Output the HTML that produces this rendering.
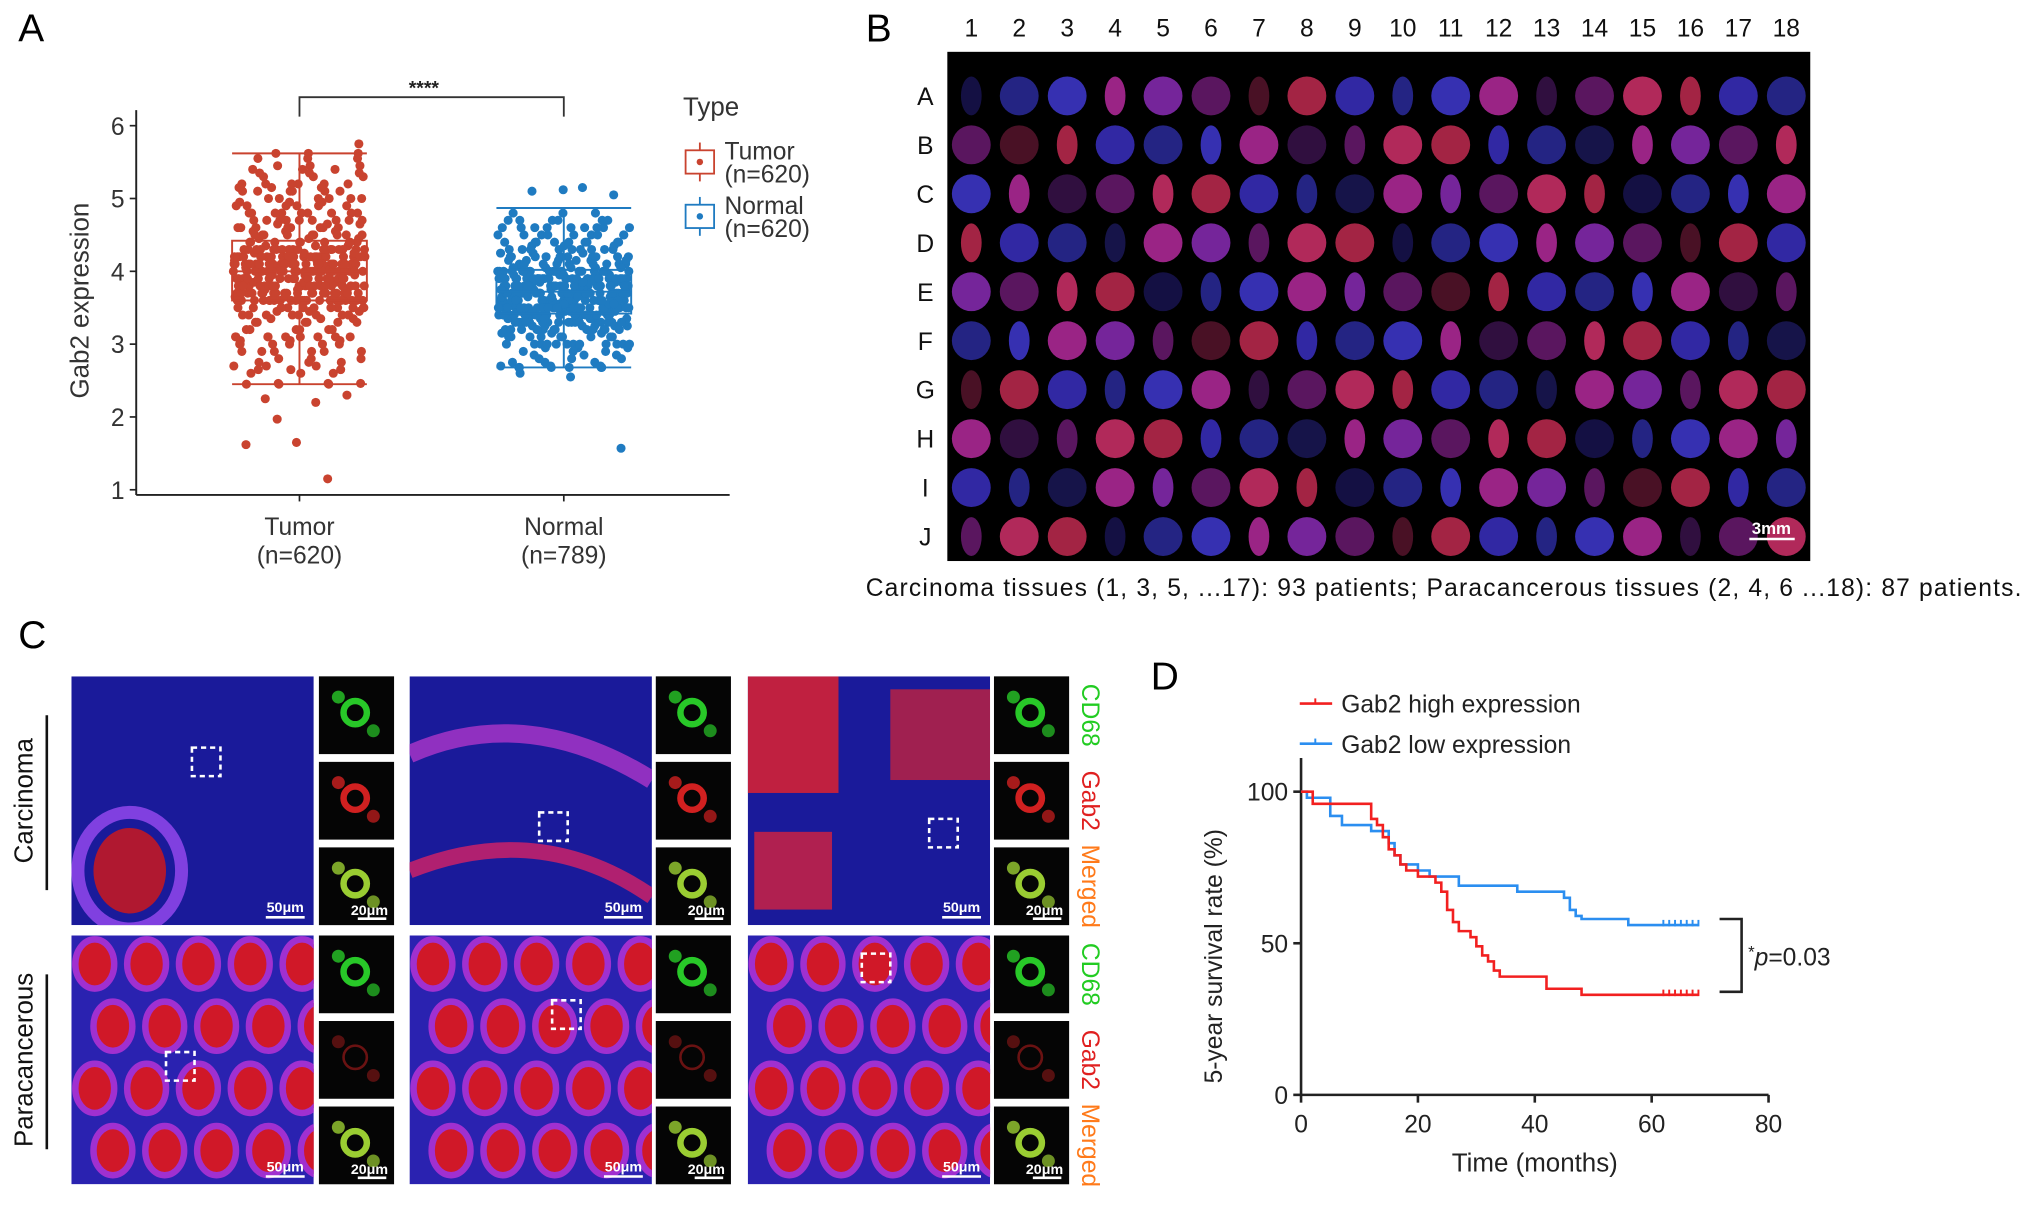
<!DOCTYPE html>
<html><head><meta charset="utf-8">
<style>
html,body{margin:0;padding:0;background:#fff;}
svg{display:block;font-family:"Liberation Sans",Arial,sans-serif;}
</style></head>
<body>
<svg id="fig" width="2032" height="1205" viewBox="0 0 1568 930" xmlns="http://www.w3.org/2000/svg">
<defs id="defs"></defs>
<rect width="1568" height="930" fill="#fff"/>
<text x="14" y="32" font-size="30">A</text>
<text x="668" y="32" font-size="30">B</text>
<text x="14" y="500" font-size="30">C</text>
<text x="888" y="532" font-size="30">D</text>

<g id="panelA"></g>
<g id="panelB"></g>
<g id="panelC"></g>
<g id="panelD"></g>
</svg>
<script>
const NS="http://www.w3.org/2000/svg";
function mk(tag,attrs,parent,txt){const e=document.createElementNS(NS,tag);for(const k in attrs)e.setAttribute(k,attrs[k]);if(txt!==undefined)e.textContent=txt;parent.appendChild(e);return e;}

/* ---------------- Panel A data ---------------- */
const groups=["Tumor","Normal"];
const groupN=["(n=620)","(n=789)"];
const yTicksA=[1,2,3,4,5,6];
const boxQ1=[3.6,3.42];
const boxMedian=[4.0,3.72];
const boxQ3=[4.42,4.02];
const whiskLow=[2.45,2.68];
const whiskHigh=[5.62,4.87];
const tumorValues=[4.0,4.2,3.8,4.5,3.6,4.1,3.9,4.3,3.7,4.8,3.3,4.0,4.6,3.5,4.2,3.9,5.0,3.1,4.4,3.8,
4.1,3.6,4.7,2.9,4.0,4.3,3.4,5.2,3.7,4.1,3.95,4.25,3.85,4.55,3.65,4.15,2.7,4.35,3.75,4.9,
3.2,4.05,4.65,3.45,4.45,3.9,5.1,3.0,4.2,3.8,4.0,3.6,4.8,2.6,4.1,4.3,3.5,5.3,3.7,4.0,
3.9,4.2,3.8,4.4,3.6,4.1,3.3,4.5,3.7,4.9,3.1,4.0,4.7,3.4,4.3,3.9,5.0,2.8,4.2,3.8,
4.1,3.6,4.6,3.0,4.0,4.2,3.5,5.4,3.7,4.1,2.2,2.25,2.3,1.65,1.62,1.15,1.97,5.75,5.62,5.55,
4.0,4.3,3.9,4.6,3.6,4.1,3.8,4.4,3.2,4.8,3.5,4.0,4.5,3.7,4.2,3.9,5.1,2.9,4.3,3.8,
4.0,3.6,4.7,3.1,4.1,4.2,3.4,5.2,3.7,4.0,2.45,2.46,5.45,5.35,2.75,2.65,3.05,4.95,5.15,3.35];
const normalValues=[3.7,3.9,3.5,4.1,3.3,3.8,3.6,4.0,3.4,4.3,3.1,3.7,4.2,3.2,3.9,3.6,4.5,2.9,4.0,3.5,
3.8,3.4,4.4,3.0,3.7,3.9,3.3,4.6,3.5,3.8,3.65,3.95,3.55,4.15,3.35,3.85,2.8,4.05,3.45,4.7,
3.15,3.75,4.25,3.25,4.35,3.6,4.8,2.75,3.9,3.5,3.7,3.4,4.1,3.0,3.8,3.9,3.2,4.4,3.6,3.7,
3.6,3.9,3.5,4.0,3.3,3.8,3.1,4.2,3.4,4.5,3.0,3.7,4.3,3.2,4.0,3.6,4.6,2.85,3.9,3.5,
3.8,3.4,4.2,2.95,3.7,3.9,3.3,4.7,3.5,3.7,1.57,2.55,2.6,2.68,2.68,2.7,5.15,5.1,5.05,5.12,
3.7,4.0,3.6,4.1,3.3,3.8,3.5,4.0,3.2,4.4,3.4,3.7,4.2,3.5,3.9,3.6,4.5,3.0,4.0,3.5,
3.8,3.4,4.3,3.1,3.7,3.9,3.3,4.6,3.5,3.6,3.65,3.75,3.85,3.45,3.55,3.95,4.05,3.25,3.35,4.15];
const groupValues=[tumorValues,normalValues];
const groupColors=["#c9432f","#1f7bc1"];

(function(){
 const g=document.getElementById('panelA');
 const yA=v=>97+(6-v)*56.2;
 const xA=i=>231+i*204;
 const ya=mk('line',{x1:105,y1:85,x2:105,y2:382,stroke:'#222','stroke-width':1.5},g);
 
 const xa=mk('line',{x1:105,y1:382,x2:563,y2:382,stroke:'#222','stroke-width':1.5},g);
 
 yTicksA.forEach(v=>{
  mk('line',{x1:100,y1:yA(v),x2:105,y2:yA(v),stroke:'#222','stroke-width':1.3},g);
  const t=mk('text',{x:96,y:yA(v)+7,'font-size':19,'text-anchor':'end',fill:'#333'},g,String(v));
  
 });
 const yt=mk('text',{x:0,y:0,'font-size':20,'text-anchor':'middle',fill:'#333',transform:'translate(68,232) rotate(-90)'},g,'Gab2 expression');
 
 groups.forEach((name,i)=>{
  const cx=xA(i),col=groupColors[i];
  mk('line',{x1:cx,y1:382,x2:cx,y2:387,stroke:'#222','stroke-width':1.3},g);
  const t1=mk('text',{x:cx,y:413,'font-size':19,'text-anchor':'middle',fill:'#333'},g,name);
  
  const t2=mk('text',{x:cx,y:435,'font-size':19,'text-anchor':'middle',fill:'#333'},g,groupN[i]);
  
  const pg=mk('g',{fill:col},g);
  
  for(let rep=0;rep<3;rep++){
   groupValues[i].forEach((v,j)=>{
    const inside=v>=whiskLow[i]&&v<=whiskHigh[i];
    if(rep>0&&!inside)return;
    const off=(((j*0.618034+rep*0.377+i*0.31)%1)-0.5)*102;
    const c=mk('circle',{cx:cx+off,cy:yA(v),r:3.5},pg);
    
   });
  }
  const bg=mk('g',{},g);
  
  const hw=52;
  mk('rect',{x:cx-hw,y:yA(boxQ3[i]),width:2*hw,height:yA(boxQ1[i])-yA(boxQ3[i]),fill:'none',stroke:col,'stroke-width':1.5},bg);
  mk('line',{x1:cx-hw,y1:yA(boxMedian[i]),x2:cx+hw,y2:yA(boxMedian[i]),stroke:col,'stroke-width':1.5},bg);
  mk('line',{x1:cx,y1:yA(boxQ3[i]),x2:cx,y2:yA(whiskHigh[i]),stroke:col,'stroke-width':1.5},bg);
  mk('line',{x1:cx,y1:yA(boxQ1[i]),x2:cx,y2:yA(whiskLow[i]),stroke:col,'stroke-width':1.5},bg);
  mk('line',{x1:cx-hw,y1:yA(whiskHigh[i]),x2:cx+hw,y2:yA(whiskHigh[i]),stroke:col,'stroke-width':1.5},bg);
  mk('line',{x1:cx-hw,y1:yA(whiskLow[i]),x2:cx+hw,y2:yA(whiskLow[i]),stroke:col,'stroke-width':1.5},bg);
 });
 const br=mk('path',{d:'M231,90 V75 H435 V90',fill:'none',stroke:'#333','stroke-width':1.4},g);
 
 const st=mk('text',{x:327,y:73,'font-size':15,'text-anchor':'middle',fill:'#222','font-weight':'bold'},g,'****');
 
 const lg=mk('g',{},g);
 mk('text',{x:527,y:89,'font-size':20,fill:'#333'},lg,'Type');
 const legN=["(n=620)","(n=620)"];
 groups.forEach((name,i)=>{
  const y0=125+i*42,col=groupColors[i];
  const e=mk('g',{},lg);
  mk('line',{x1:540,y1:y0-15,x2:540,y2:y0+15,stroke:col,'stroke-width':1.4},e);
  mk('rect',{x:529,y:y0-9,width:22,height:18,fill:'#fff',stroke:col,'stroke-width':1.4},e);
  mk('circle',{cx:540,cy:y0,r:2.5,fill:col},e);
  mk('text',{x:559,y:y0-2,'font-size':19,fill:'#333'},e,name);
  mk('text',{x:559,y:y0+16,'font-size':19,fill:'#333'},e,legN[i]);
 });
})();

/* ---------------- Panel B: tissue microarray ---------------- */
const colLabels=["1","2","3","4","5","6","7","8","9","10","11","12","13","14","15","16","17","18"];
const rowLabels=["A","B","C","D","E","F","G","H","I","J"];
(function(){
 const g=document.getElementById('panelB');
 const x0=731,x1=1397,y0=40,y1=433;
 const bg=mk('rect',{x:x0,y:y0,width:x1-x0,height:y1-y0,fill:'#000'},g);
 
 const cw=(x1-x0)/18,rh=(y1-y0)/10.4;
 const palette=["#3a2fc0","#b52a9c","#d0306a","#2a2a9a","#8a2bb5","#c02a50","#4038d0","#6a1a70"];
 colLabels.forEach((c,ci)=>{
  const cx=x0+cw*(ci+0.5);
  const t=mk('text',{x:cx,y:28,'font-size':19,'text-anchor':'middle',fill:'#111'},g,c);
  
 });
 rowLabels.forEach((r,ri)=>{
  const cy=y0+rh*(ri+0.9);
  const t=mk('text',{x:714,y:cy+7,'font-size':19,'text-anchor':'middle',fill:'#111'},g,r);
  
  colLabels.forEach((c,ci)=>{
   const cx=x0+cw*(ci+0.5);
   const k=(ri*7+ci*3)%palette.length;
   const faint=((ri+ci*5)%6===0);
   const d=mk('ellipse',{cx:cx,cy:cy,rx:((ri+ci)%3===0)?8:15,ry:15,fill:palette[k],opacity:faint?0.35:0.85},g);
   
  });
 });
 mk('line',{x1:1350,y1:416,x2:1385,y2:416,stroke:'#fff','stroke-width':2},g);
 mk('text',{x:1367,y:412,'font-size':13,'text-anchor':'middle',fill:'#fff','font-weight':'bold'},g,'3mm');
 const cap=mk('text',{x:668,y:460,'font-size':19,fill:'#111',textLength:892},g,'Carcinoma tissues (1, 3, 5, ...17): 93 patients; Paracancerous tissues (2, 4, 6 ...18): 87  patients.');
 
})();

/* ---------------- Panel C: immunofluorescence ---------------- */
const bigX=[55,316,577];
const smallX=[246,506,767];
const rowY=[522,722];
const channelNames=["CD68","Gab2","Merged"];
const channelColors=["#22cc22","#e02020","#ff7a1a"];
(function(){
 const g=document.getElementById('panelC');
 const defs=document.getElementById('defs');
 const rowNames=["Carcinoma","Paracancerous"];
 rowNames.forEach((n,ri)=>{
  const cy=rowY[ri]+96;
  const t=mk('text',{x:0,y:0,'font-size':20,'text-anchor':'middle',fill:'#111',transform:`translate(25,${cy}) rotate(-90)`},g,n);
  
  mk('line',{x1:36,y1:rowY[ri]+30,x2:36,y2:rowY[ri]+165,stroke:'#111','stroke-width':2},g);
  bigX.forEach((bx,gi)=>{
   const y=rowY[ri];
   const cid='clip'+ri+'_'+gi;
   const cp=mk('clipPath',{id:cid},defs);
   mk('rect',{x:bx,y:y,width:187,height:192},cp);
   const im=mk('g',{'clip-path':`url(#${cid})`},g);
   mk('rect',{x:bx,y:y,width:187,height:192,fill:ri===0?'#1a1a9a':'#2a22b0'},im);
   if(ri===1){
    for(let a=0;a<5;a++)for(let b=0;b<4;b++){
     mk('ellipse',{cx:bx+18+a*40+(b%2)*14,cy:y+22+b*48,rx:15,ry:19,fill:'#d01828',stroke:'#a030d0','stroke-width':5},im);
    }
   } else {
    if(gi===0){mk('ellipse',{cx:bx+45,cy:y+150,rx:40,ry:45,fill:'none',stroke:'#8040e0','stroke-width':10},im);mk('ellipse',{cx:bx+45,cy:y+150,rx:28,ry:33,fill:'#b01830'},im);}
    if(gi===1){mk('path',{d:`M${bx},${y+60} Q${bx+90},${y+20} ${bx+187},${y+80}`,fill:'none',stroke:'#9030c0','stroke-width':14},im);mk('path',{d:`M${bx},${y+150} Q${bx+100},${y+110} ${bx+187},${y+170}`,fill:'none',stroke:'#b02070','stroke-width':12},im);}
    if(gi===2){mk('rect',{x:bx,y:y,width:70,height:90,fill:'#c02040'},im);mk('rect',{x:bx+110,y:y+10,width:77,height:70,fill:'#a02050'},im);mk('rect',{x:bx+5,y:y+120,width:60,height:60,fill:'#b02050'},im);}
   }
   const boxx=ri===0?[93,100,140][gi]:[73,110,88][gi], boxy=ri===0?[55,105,110][gi]:[90,50,14][gi];
   mk('rect',{x:bx+boxx,y:y+boxy,width:22,height:22,fill:'none',stroke:'#fff','stroke-width':2,'stroke-dasharray':'4,3'},im);
   mk('line',{x1:bx+150,y1:y+186,x2:bx+180,y2:y+186,stroke:'#fff','stroke-width':2},im);
   mk('text',{x:bx+165,y:y+182,'font-size':11,'text-anchor':'middle',fill:'#fff','font-weight':'bold'},im,'50μm');
   channelNames.forEach((ch,k)=>{
    const sx=smallX[gi],sy=y+k*66;
    const sm=mk('g',{},g);
    mk('rect',{x:sx,y:sy,width:58,height:60,fill:'#050505'},sm);
    const fc=k===0?'#28c828':(k===1?'#d02020':'#9acd32');
    const strong=!(ri===1&&k===1);
    mk('circle',{cx:sx+28,cy:sy+28,r:9,fill:'none',stroke:fc,'stroke-width':strong?5:2,opacity:strong?1:0.5},sm);
    mk('circle',{cx:sx+15,cy:sy+16,r:5,fill:fc,opacity:strong?0.8:0.4},sm);
    mk('circle',{cx:sx+42,cy:sy+42,r:5,fill:fc,opacity:strong?0.7:0.4},sm);
    if(k===2){mk('line',{x1:sx+30,y1:sy+55,x2:sx+52,y2:sy+55,stroke:'#fff','stroke-width':2},sm);mk('text',{x:sx+39,y:sy+52,'font-size':11,'text-anchor':'middle',fill:'#fff','font-weight':'bold'},sm,'20μm');}
    if(gi===2){
     const lt=mk('text',{x:0,y:0,'font-size':19,'text-anchor':'middle',fill:channelColors[k],transform:`translate(835,${sy+30}) rotate(90)`},g,ch);
     
    }
   });
  });
 });
})();

/* ---------------- Panel D: Kaplan-Meier ---------------- */
const xTicksD=[0,20,40,60,80];
const yTicksD=[0,50,100];
const highTimes=[0,2,12,13,14,15,16,17,18,20,23,24,25,26,27,29,30,31,32,33,34,42,48,68];
const highSurv=[100,96,91,89,85,81,79,76,74,72,70,67,61,57,54,52,49,46,44,41,39,35,33,33];
const lowTimes=[0,1,5,7,12,15,16,17,20,22,27,37,45,46,47,48,56,68];
const lowSurv=[100,98,92,89,87,83,79,76,74,72,69,67,65,61,59,58,56,56];
const censorTimes=[62,63,64,65,66,67,68];
(function(){
 const g=document.getElementById('panelD');
 const xD=t=>1004+t*4.51;
 const yD=s=>845-s*2.34;
 const ya=mk('line',{x1:1004,y1:585,x2:1004,y2:845,stroke:'#222','stroke-width':2},g);
 
 const xa=mk('line',{x1:1004,y1:845,x2:xD(80),y2:845,stroke:'#222','stroke-width':2},g);
 
 xTicksD.forEach(t=>{
  mk('line',{x1:xD(t),y1:845,x2:xD(t),y2:851,stroke:'#222','stroke-width':2},g);
  const l=mk('text',{x:xD(t),y:874,'font-size':19,'text-anchor':'middle',fill:'#222'},g,String(t));
  
 });
 yTicksD.forEach(s=>{
  mk('line',{x1:998,y1:yD(s),x2:1004,y2:yD(s),stroke:'#222','stroke-width':2},g);
  const l=mk('text',{x:994,y:yD(s)+7,'font-size':19,'text-anchor':'end',fill:'#222'},g,String(s));
  
 });
 const xt=mk('text',{x:xD(40),y:904,'font-size':20,'text-anchor':'middle',fill:'#222'},g,'Time (months)');
 
 const yt=mk('text',{x:0,y:0,'font-size':19,'text-anchor':'middle',fill:'#222',transform:'translate(943,738) rotate(-90)'},g,'5-year survival rate (%)');
 
 function step(times,surv,col,name){
  let d=`M${xD(times[0])},${yD(surv[0])}`;
  for(let i=1;i<times.length;i++){d+=` H${xD(times[i])} V${yD(surv[i])}`;}
  const p=mk('path',{d:d,fill:'none',stroke:col,'stroke-width':2},g);
  
  const last=surv[surv.length-1];
  censorTimes.forEach(t=>{mk('line',{x1:xD(t),y1:yD(last)-4,x2:xD(t),y2:yD(last)+1,stroke:col,'stroke-width':1.5},g);});
 }
 step(lowTimes,lowSurv,'#2b8ef0','low-expression-curve');
 step(highTimes,highSurv,'#f22020','high-expression-curve');
 const legs=[["Gab2 high expression","#f22020",543],["Gab2 low expression","#2b8ef0",574]];
 legs.forEach(([t,c,y])=>{
  const e=mk('g',{},g);
  mk('line',{x1:1003,y1:y,x2:1028,y2:y,stroke:c,'stroke-width':2},e);
  mk('line',{x1:1015,y1:y-4,x2:1015,y2:y,stroke:c,'stroke-width':1.5},e);
  mk('text',{x:1035,y:y+7,'font-size':19,fill:'#222'},e,t);
 });
 const br=mk('path',{d:`M1327,${yD(58)} H1344 V${yD(34)} H1327`,fill:'none',stroke:'#222','stroke-width':2},g);
 
 const pt=mk('text',{x:1349,y:745,'font-size':19,fill:'#222'},g);
 
 mk('tspan',{'font-size':13,dy:-6},pt,'*');
 mk('tspan',{'font-style':'italic',dy:6},pt,'p');
 mk('tspan',{},pt,'=0.03');
})();
</script>
</body></html>
